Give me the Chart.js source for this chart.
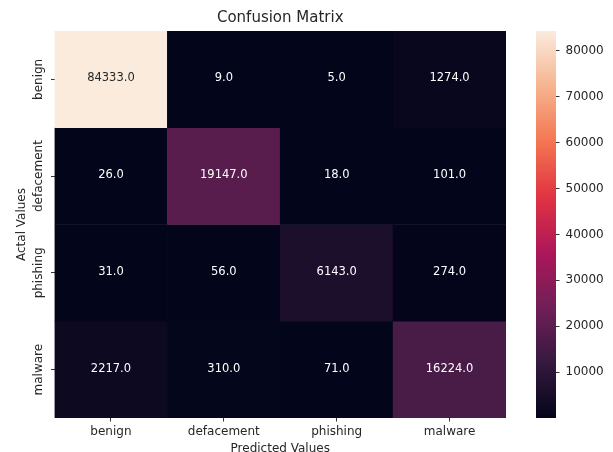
<!DOCTYPE html>
<html>
<head>
<meta charset="utf-8">
<script src="https://cdn.jsdelivr.net/npm/chart.js@4.4.1/dist/chart.umd.min.js"></script>
<style>
  html, body { margin: 0; padding: 0; background: #ffffff; overflow: hidden; width: 613px; height: 452px; }
  #wrap { position: relative; width: 613px; height: 452px; overflow: hidden; }
  #main { position: absolute; left: 0; top: 0; }
  #cbar { position: absolute; left: 536px; top: 0; }
</style>
</head>
<body>
<div id="wrap">
  <canvas id="main" width="613" height="456"></canvas>
  <canvas id="cbar" width="77" height="452"></canvas>
</div>
<script>
// Class names on both axes
const predictedLabels = ['benign', 'defacement', 'phishing', 'malware'];
const actualLabels = ['benign', 'defacement', 'phishing', 'malware'];

// Counts per actual class (rows), in predicted-class order (columns)
const benignRow = [84333, 9, 5, 1274];
const defacementRow = [26, 19147, 18, 101];
const phishingRow = [31, 56, 6143, 274];
const malwareRow = [2217, 310, 71, 16224];

// Colour bar tick values
const colorbarTicks = [10000, 20000, 30000, 40000, 50000, 60000, 70000, 80000];

const FONT = '"DejaVu Sans", "Liberation Sans", sans-serif';
const TEXT = '#262626';

// "rocket" colour map, as key stops
const rocketStops = [
  [0 / 7, '#03051a'],
  [1 / 7, '#35193e'],
  [2 / 7, '#701f57'],
  [3 / 7, '#ad1759'],
  [4 / 7, '#e13342'],
  [5 / 7, '#f37651'],
  [6 / 7, '#f6b48f'],
  [7 / 7, '#faebdd']
];

function hexToRgb(h) {
  return [parseInt(h.slice(1, 3), 16), parseInt(h.slice(3, 5), 16), parseInt(h.slice(5, 7), 16)];
}

function rocketRgb(t) {
  t = Math.max(0, Math.min(1, t));
  for (let i = 1; i < rocketStops.length; i++) {
    const [t1, c1] = rocketStops[i];
    if (t <= t1) {
      const [t0, c0] = rocketStops[i - 1];
      const f = (t - t0) / (t1 - t0);
      const a = hexToRgb(c0), b = hexToRgb(c1);
      return a.map((v, k) => Math.round(v + (b[k] - v) * f));
    }
  }
  return hexToRgb(rocketStops[rocketStops.length - 1][1]);
}

function rgbCss(c) { return 'rgb(' + c.join(',') + ')'; }

// Dark text on light cells, white text on dark ones (relative luminance test)
function textColorFor(rgb) {
  const lin = rgb.map(v => {
    const s = v / 255;
    return s <= 0.03928 ? s / 12.92 : Math.pow((s + 0.055) / 1.055, 2.4);
  });
  const lum = 0.2126 * lin[0] + 0.7152 * lin[1] + 0.0722 * lin[2];
  return lum > 0.408 ? TEXT : '#ffffff';
}

const rows = [benignRow, defacementRow, phishingRow, malwareRow];
const allValues = rows.flat();
const vmin = Math.min(...allValues);
const vmax = Math.max(...allValues);
const norm = v => (v - vmin) / (vmax - vmin);

// One floating-bar dataset per actual class; each bar spans its row band
const datasets = rows.map((row, r) => ({
  label: actualLabels[r],
  data: row.map(() => [r, r + 1]),
  values: row,
  backgroundColor: row.map(v => rgbCss(rocketRgb(norm(v)))),
  borderWidth: 0,
  grouped: false,
  barPercentage: 1,
  categoryPercentage: 1
}));

// Writes each count in the middle of its cell
const cellText = {
  id: 'cellText',
  afterDatasetsDraw(chart) {
    const ctx = chart.ctx;
    ctx.save();
    ctx.font = '11.5px ' + FONT;
    ctx.textAlign = 'center';
    ctx.textBaseline = 'middle';
    chart.data.datasets.forEach((ds, r) => {
      chart.getDatasetMeta(r).data.forEach((bar, c) => {
        const v = ds.values[c];
        const p = bar.getProps(['x', 'y', 'base'], true);
        ctx.fillStyle = textColorFor(rocketRgb(norm(v)));
        ctx.fillText(v.toFixed(1), p.x, (p.y + p.base) / 2 - 1);
      });
    });
    ctx.restore();
  }
};

// Row names, turned to read upwards beside the y axis
const rowLabels = {
  id: 'rowLabels',
  afterDraw(chart) {
    const ys = chart.scales.y;
    const ctx = chart.ctx;
    ctx.save();
    ctx.font = '12px ' + FONT;
    ctx.fillStyle = TEXT;
    ctx.textAlign = 'center';
    ctx.textBaseline = 'middle';
    actualLabels.forEach((lab, i) => {
      ctx.save();
      ctx.translate(ys.right - 15.5, ys.getPixelForValue(i + 0.5));
      ctx.rotate(-Math.PI / 2);
      ctx.fillText(lab, 0, 0);
      ctx.restore();
    });
    ctx.restore();
  }
};

new Chart(document.getElementById('main'), {
  type: 'bar',
  data: { labels: predictedLabels, datasets: datasets },
  plugins: [cellText, rowLabels],
  options: {
    responsive: false,
    animation: false,
    layout: { padding: { left: 0, right: 107, top: 0, bottom: 0 } },
    plugins: {
      legend: { display: false },
      tooltip: { enabled: false },
      title: {
        display: true,
        text: 'Confusion Matrix',
        fullSize: false,
        color: TEXT,
        font: { family: FONT, size: 15, weight: 'normal' },
        padding: { top: 9.3, bottom: 3.7 }
      }
    },
    scales: {
      x: {
        type: 'category',
        offset: true,
        grid: { drawOnChartArea: false, drawTicks: true, tickLength: 3.5, offset: false, color: '#333333', lineWidth: 1 },
        border: { display: false },
        ticks: { color: TEXT, font: { family: FONT, size: 12 }, padding: 3, maxRotation: 0, autoSkip: false },
        title: {
          display: true,
          text: 'Predicted Values',
          color: TEXT,
          font: { family: FONT, size: 12 },
          padding: { top: 0, bottom: 0.3 }
        },
        afterFit(s) { s.height = 38; }
      },
      y: {
        type: 'linear',
        min: 0,
        max: 4,
        reverse: true,
        afterBuildTicks(s) { s.ticks = actualLabels.map((_, i) => ({ value: i + 0.5 })); },
        grid: { drawOnChartArea: false, drawTicks: true, tickLength: 3.5, color: '#333333', lineWidth: 1 },
        border: { display: false },
        ticks: { display: false },
        title: {
          display: true,
          text: 'Actal Values',
          color: TEXT,
          font: { family: FONT, size: 12 },
          padding: { top: 14.8, bottom: 0 }
        },
        afterFit(s) { s.width = 54.5; }
      }
    }
  }
});

// Colour bar: one floating bar from the smallest to the largest count, filled with the map
new Chart(document.getElementById('cbar'), {
  type: 'bar',
  data: {
    labels: [''],
    datasets: [{
      data: [[vmin, vmax]],
      borderWidth: 0,
      barPercentage: 1,
      categoryPercentage: 1,
      backgroundColor(context) {
        const chart = context.chart;
        const ys = chart.scales.y;
        if (!chart.chartArea || !ys) return rocketStops[0][1];
        const g = chart.ctx.createLinearGradient(0, ys.getPixelForValue(vmin), 0, ys.getPixelForValue(vmax));
        rocketStops.forEach(([t, c]) => g.addColorStop(t, c));
        return g;
      }
    }]
  },
  options: {
    responsive: false,
    animation: false,
    layout: { padding: { left: 0, right: 0, top: 31, bottom: 34 } },
    plugins: { legend: { display: false }, tooltip: { enabled: false } },
    scales: {
      x: { display: false },
      y: {
        position: 'right',
        min: vmin,
        max: vmax,
        afterBuildTicks(s) { s.ticks = colorbarTicks.map(v => ({ value: v })); },
        ticks: { color: TEXT, font: { family: FONT, size: 12 }, padding: 6, callback: v => String(v) },
        grid: { drawOnChartArea: false, drawTicks: true, tickLength: 3.5, color: '#333333', lineWidth: 1 },
        border: { display: false },
        afterFit(s) { s.width = 57; }
      }
    }
  }
});
</script>
</body>
</html>
